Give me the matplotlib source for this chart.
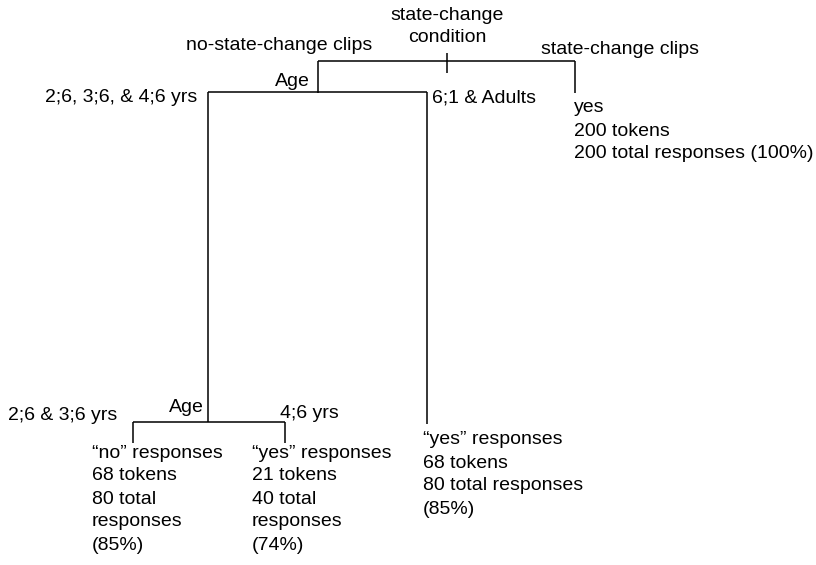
import matplotlib.pyplot as plt

plt.rcParams['font.family'] = ['Liberation Sans', 'DejaVu Sans']

root_label = ["state-change", "condition"]
condition_labels = ["no-state-change clips", "state-change clips"]
age_split_1 = ["2;6, 3;6, & 4;6 yrs", "6;1 & Adults"]
age_split_2 = ["2;6 & 3;6 yrs", "4;6 yrs"]
leaf_answers = ["\u201cno\u201d responses", "\u201cyes\u201d responses",
                "\u201cyes\u201d responses", "yes"]
leaf_tokens = [68, 21, 68, 200]
leaf_totals = [80, 40, 80, 200]
leaf_pcts = [85, 74, 85, 100]

# layout (pixel space, y downwards)
FS = 14
LW = 1.1
LINE_H = 23


def leaf_lines(i, style):
    head = [leaf_answers[i], "%d tokens" % leaf_tokens[i]]
    if style == "narrow":
        return head + ["%d total" % leaf_totals[i], "responses", "(%d%%)" % leaf_pcts[i]]
    if style == "mid":
        return head + ["%d total responses" % leaf_totals[i], "(%d%%)" % leaf_pcts[i]]
    return head + ["%d total responses (%d%%)" % (leaf_totals[i], leaf_pcts[i])]


def put_lines(ax, x, y, lines):
    for k, s in enumerate(lines):
        ax.text(x, y + k * LINE_H, s, fontsize=FS, ha="left", va="center")


def seg(ax, xs, ys):
    ax.plot(xs, ys, color="black", lw=LW, solid_capstyle="butt")


fig = plt.figure(figsize=(8.16, 5.65), dpi=100)
ax = fig.add_axes([0, 0, 1, 1])
ax.set_xlim(0, 816)
ax.set_ylim(565, 0)
ax.axis("off")

# root split: condition
seg(ax, [318, 575], [61, 61])
seg(ax, [447, 447], [53, 73])
seg(ax, [318, 318], [61, 93])
seg(ax, [575, 575], [61, 93])
ax.text(447, 16, root_label[0], fontsize=FS, ha="center", va="center")
ax.text(447, 38, root_label[1], fontsize=FS, ha="center", va="center")
ax.text(372, 46, condition_labels[0], fontsize=FS, ha="right", va="center")
ax.text(541, 50, condition_labels[1], fontsize=FS, ha="left", va="center")

# first age split
seg(ax, [208, 427], [92, 92])
seg(ax, [208, 208], [92, 422])
seg(ax, [427, 427], [92, 424])
ax.text(310, 81, "Age", fontsize=FS, ha="right", va="center")
ax.text(197, 98, age_split_1[0], fontsize=FS, ha="right", va="center")
ax.text(432, 98, age_split_1[1], fontsize=FS, ha="left", va="center")

# second age split
seg(ax, [133, 285], [422, 422])
seg(ax, [133, 133], [422, 443])
seg(ax, [285, 285], [422, 443])
ax.text(204, 407, "Age", fontsize=FS, ha="right", va="center")
ax.text(8, 416, age_split_2[0], fontsize=FS, ha="left", va="center")
ax.text(280, 413, age_split_2[1], fontsize=FS, ha="left", va="center")

# leaves
put_lines(ax, 92, 453, leaf_lines(0, "narrow"))
put_lines(ax, 252, 453, leaf_lines(1, "narrow"))
put_lines(ax, 423, 440, leaf_lines(2, "mid"))
put_lines(ax, 574, 108, leaf_lines(3, "wide"))

fig.savefig("out.png", dpi=100)
